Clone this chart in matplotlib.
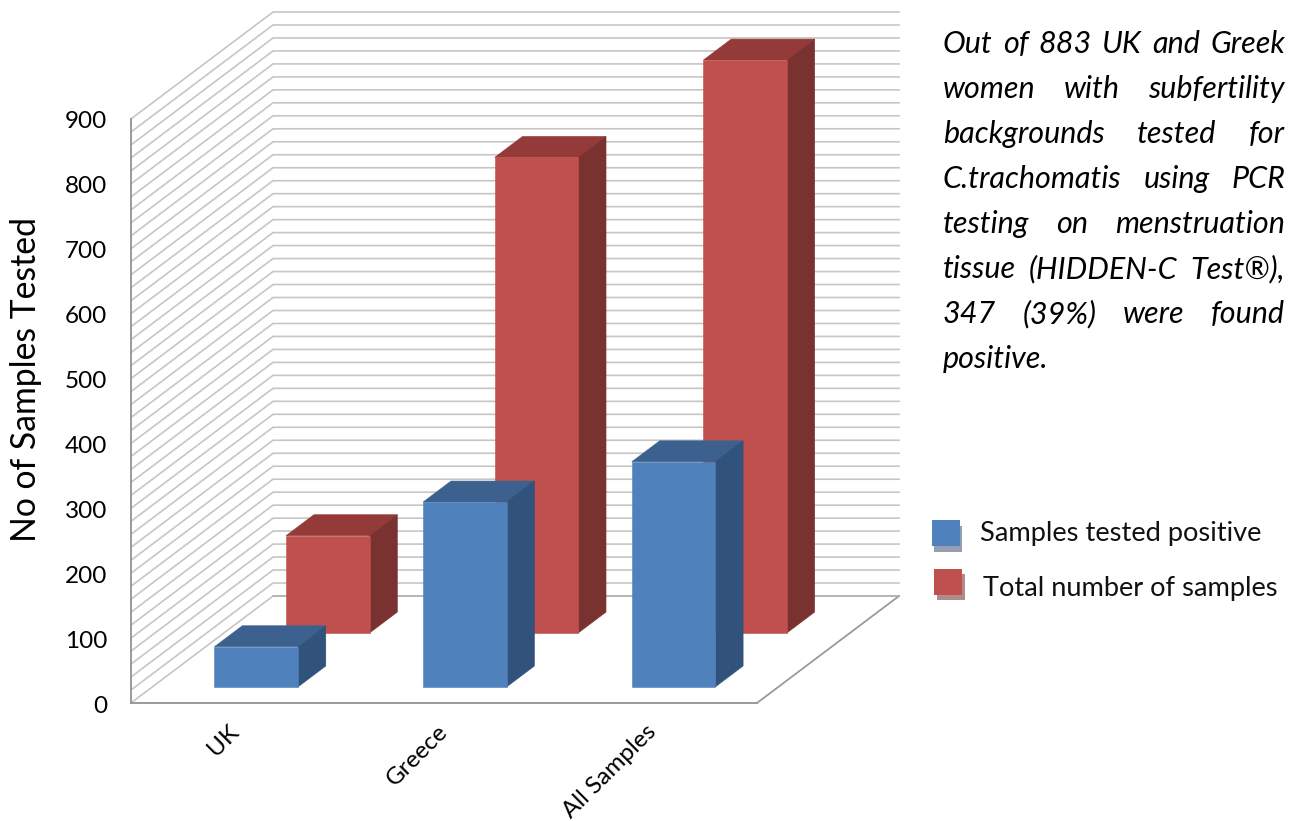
import numpy as np
import matplotlib
matplotlib.use('Agg')
import matplotlib.pyplot as plt
from matplotlib.patches import Polygon, Rectangle
from matplotlib.transforms import ScaledTranslation

plt.rcParams['font.family'] = ['Lato', 'DejaVu Sans']

categories = ['UK', 'Greece', 'All Samples']
positive = [62, 285, 347]
total = [150, 733, 883]
y_ticks = [0, 100, 200, 300, 400, 500, 600, 700, 800, 900]
grid_values = np.arange(0, 901, 20)
legend_labels = ['Samples tested positive', 'Total number of samples']
note_lines = ['Out of 883 UK and Greek',
              'women with subfertility',
              'backgrounds tested for',
              'C.trachomatis using PCR',
              'testing on menstruation',
              'tissue (HIDDEN-C Test®),',
              '347 (39%) were found',
              'positive.']

W, H = 1297, 821
fig = plt.figure(figsize=(W / 100, H / 100), dpi=100)

# axes run from the front-left floor corner to the back-right top corner
left, right, bottom, top = 131, 899, 703, 12
ax = fig.add_axes([left / W, 1 - bottom / H, (right - left) / W, (bottom - top) / H])
px_x = 626 / 3.0  # pixels per category
px_y = 584 / 900.0  # pixels per sample
ax.set_xlim(0, (right - left) / px_x)
ax.set_ylim(0, (bottom - top) / px_y)
ax.patch.set_alpha(0)


# depth goes from 0 (front) to 1 (back wall)
def proj(x, d, v):
    return x + d * 142 / px_x, v + d * 107 / px_y


grid_col = '#c6c6c6'
for v in grid_values:
    pts = [proj(0, 0, v), proj(0, 1, v), proj(3, 1, v)]
    ax.plot([p[0] for p in pts], [p[1] for p in pts], color=grid_col, lw=1.2,
            clip_on=False, zorder=1, solid_joinstyle='miter')

# floor edges
pts = [proj(3, 0, 0), proj(3, 1, 0)]
ax.plot([p[0] for p in pts], [p[1] for p in pts], color='#9a9a9a', lw=1.3, clip_on=False, zorder=1)
pts = [proj(3, 1, 0), proj(0, 1, 0)]
ax.plot([p[0] for p in pts], [p[1] for p in pts], color='#b0b0b0', lw=1.2, clip_on=False, zorder=1)


def draw_bar(x0, d0, val, front, side, top_col, z):
    x1 = x0 + 0.4
    d1 = d0 + 0.196
    faces = [
        ([proj(x0, d0, val), proj(x1, d0, val), proj(x1, d1, val), proj(x0, d1, val)], top_col),
        ([proj(x1, d0, 0), proj(x1, d1, 0), proj(x1, d1, val), proj(x1, d0, val)], side),
        ([proj(x0, d0, 0), proj(x1, d0, 0), proj(x1, d0, val), proj(x0, d0, val)], front),
    ]
    for pts, col in faces:
        ax.add_patch(Polygon(pts, closed=True, facecolor=col, edgecolor=col, lw=0.4,
                             clip_on=False, zorder=z))


for i, val in enumerate(total):
    draw_bar(i + 0.298, 0.654, val, '#c0504d', '#7a3230', '#943b39', 3)
for i, val in enumerate(positive):
    draw_bar(i + 0.298, 0.15, val, '#4f81bd', '#31527a', '#3c618e', 4)

for s in ['top', 'right']:
    ax.spines[s].set_visible(False)
ax.spines['left'].set_bounds(0, 900)
ax.spines['bottom'].set_bounds(0, 3)
ax.spines['left'].set_color('#9a9a9a')
ax.spines['bottom'].set_color('#9a9a9a')
ax.spines['left'].set_linewidth(1.4)
ax.spines['bottom'].set_linewidth(1.4)
ax.spines['left'].set_zorder(2)

ax.set_yticks(y_ticks)
ax.tick_params(axis='y', length=0, pad=17, labelsize=17.5, labelcolor='black')
ax.set_xticks([0.5, 1.5, 2.5])
ax.set_xticklabels(categories, rotation=45, ha='right', va='top', rotation_mode='anchor', fontsize=17.5)
ax.tick_params(axis='x', length=0, pad=13)
for lab in ax.get_xticklabels():
    lab.set_transform(lab.get_transform() + ScaledTranslation(-0.07, 0, fig.dpi_scale_trans))
for lab in ax.get_yticklabels():
    lab.set_transform(lab.get_transform() + ScaledTranslation(0, -0.01, fig.dpi_scale_trans))
ax.set_ylabel('No of Samples Tested', fontsize=24.3, va='center')
ax.yaxis.set_label_coords((26 - left) / (right - left), (bottom - 379) / (bottom - top))


def fx(x):
    return x / W


def fy(y):
    return 1 - y / H


def swatch(x, y, w, h, dx, dy, col, shadow):
    fig.add_artist(Rectangle((fx(x + dx), fy(y + dy + h)), w / W, h / H, facecolor=shadow,
                             edgecolor='none', transform=fig.transFigure))
    fig.add_artist(Rectangle((fx(x), fy(y + h)), w / W, h / H, facecolor=col,
                             edgecolor='none', transform=fig.transFigure))


swatch(932, 520, 28, 26, 2, 6, '#4f81bd', '#939eb3')
swatch(934, 569, 28, 26, 3, 5, '#c0504d', '#b08b8b')
fig.text(fx(980), fy(534), legend_labels[0], fontsize=19.6, va='center', color='#111111')
fig.text(fx(983), fy(588), legend_labels[1], fontsize=19.6, va='center', color='#111111')

# justified note, word by word
renderer = fig.canvas.get_renderer()
x0, x1 = 943, 1285
for n, line in enumerate(note_lines):
    base = 53 + n * 45
    words = line.split()
    items = [fig.text(0, fy(base), w, fontsize=22, style='italic', va='baseline', color='black') for w in words]
    widths = [t.get_window_extent(renderer).width for t in items]
    if n == len(note_lines) - 1:
        gap = 0
    else:
        gap = (x1 - x0 - sum(widths)) / (len(words) - 1)
    x = x0
    for t, w in zip(items, widths):
        t.set_x(fx(x))
        x += w + gap

fig.savefig('out.png', dpi=100)
